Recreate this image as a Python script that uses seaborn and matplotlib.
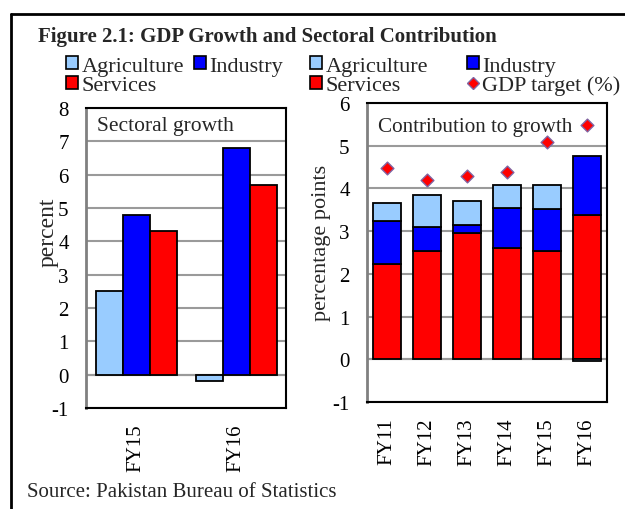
import numpy as np
import pandas as pd
import matplotlib
matplotlib.use("Agg")
import matplotlib.pyplot as plt
from matplotlib.patches import Patch
from matplotlib.lines import Line2D
import seaborn as sns

# ---------------- data ----------------
left_years = ["FY15", "FY16"]
agri_growth = [2.5, -0.2]
ind_growth = [4.8, 6.8]
serv_growth = [4.3, 5.7]

right_years = ["FY11", "FY12", "FY13", "FY14", "FY15", "FY16"]
agri_contrib = [0.42, 0.75, 0.55, 0.52, 0.56, -0.05]
ind_contrib = [0.99, 0.56, 0.20, 0.94, 0.98, 1.40]
serv_contrib = [2.24, 2.53, 2.95, 2.61, 2.53, 3.37]
gdp_target = [4.48, 4.19, 4.28, 4.38, 5.09, 5.49]

sectors = ["Agriculture", "Industry", "Services"]

# ---------------- style ----------------
sns.set_theme(style="white")
plt.rcParams["font.family"] = ["Liberation Serif", "DejaVu Serif"]
plt.rcParams["axes.unicode_minus"] = False

C_AGRI = "#99CCFF"
C_IND = "#0000FF"
C_SERV = "#FF0000"
GRID = "#9a9a9a"
EDGE_LW = 1.3
FS = 15

fig = plt.figure(figsize=(6.25, 5.10), dpi=100)
W, H = 625, 510

def ax_rect(x0, x1, y0, y1):
    return [x0 / W, 1 - y1 / H, (x1 - x0) / W, (y1 - y0) / H]

ax1 = fig.add_axes(ax_rect(86, 286, 109, 409))
ax2 = fig.add_axes(ax_rect(367, 607, 104, 403))

# ---------------- left panel ----------------
df_left = pd.DataFrame({
    "year": left_years * 3,
    "sector": [s for s in sectors for _ in left_years],
    "value": agri_growth + ind_growth + serv_growth,
})
sns.barplot(data=df_left, x="year", y="value", hue="sector",
            order=left_years, hue_order=sectors,
            palette=[C_AGRI, C_IND, C_SERV], width=0.81, saturation=1,
            edgecolor="black", linewidth=EDGE_LW, errorbar=None,
            legend=False, ax=ax1, zorder=3)
ax1.set_ylim(-1, 8)
ax1.set_yticks(range(-1, 9))
ax1.set_xlim(-0.5, len(left_years) - 0.5)
ax1.text(0.055, 0.943, "Sectoral growth", transform=ax1.transAxes,
         ha="left", va="center", fontsize=15.5)
ax1.set_ylabel("percent", fontsize=17)
ax1.yaxis.set_label_coords(-0.19, 0.59)
ax1.yaxis.label.set_verticalalignment("center")

# ---------------- right panel ----------------
serv_a = np.array(serv_contrib)
ind_a = np.array(ind_contrib)
agri_a = np.array(agri_contrib)
agri_bottom = np.where(agri_a >= 0, serv_a + ind_a, 0.0)

common = dict(width=0.69, edgecolor="black", linewidth=EDGE_LW, saturation=1,
              errorbar=None, ax=ax2, order=right_years, zorder=3)
sns.barplot(x=right_years, y=serv_contrib, color=C_SERV, **common)
sns.barplot(x=right_years, y=ind_contrib, color=C_IND, bottom=serv_a, **common)
sns.barplot(x=right_years, y=agri_contrib, color=C_AGRI, bottom=agri_bottom, **common)
sns.stripplot(x=right_years, y=gdp_target, order=right_years, jitter=False,
              marker="D", color=C_SERV, size=6.5, edgecolor="#8064A2",
              linewidth=1.0, ax=ax2, zorder=5)
ax2.set_ylim(-1, 6)
ax2.set_yticks(range(-1, 7))
ax2.set_xlim(-0.5, len(right_years) - 0.5)
ax2.text(0.046, 0.92, "Contribution to growth", transform=ax2.transAxes,
         ha="left", va="center", fontsize=15.2)
ax2.set_ylabel("percentage points", fontsize=16)
ax2.yaxis.set_label_coords(-0.19, 0.535)
ax2.yaxis.label.set_verticalalignment("center")

# ---------------- common axis styling ----------------
for ax in (ax1, ax2):
    ax.set_xlabel("")
    ax.set_axisbelow(True)
    ax.yaxis.grid(True, color=GRID, linewidth=1.5, zorder=0)
    ax.xaxis.grid(False)
    ax.axhline(0, color=GRID, linewidth=1.5, zorder=1)
    ax.tick_params(axis="y", length=0, pad=12.5, labelsize=FS, colors="black")
    ax.tick_params(axis="x", length=0, pad=11, labelsize=FS, colors="black",
                   labelrotation=90)
    for side in ("top", "right", "bottom"):
        ax.spines[side].set_visible(True)
        ax.spines[side].set_color("black")
        ax.spines[side].set_linewidth(1.5)
    ax.spines["left"].set_visible(True)
    ax.spines["left"].set_color("#808080")
    ax.spines["left"].set_linewidth(2)

# ---------------- legends ----------------
def sq(c):
    return Patch(facecolor=c, edgecolor="black", linewidth=1.2)

leg_kw = dict(frameon=False, fontsize=16, handlelength=0.55, handleheight=0.55,
              handletextpad=0.15, labelspacing=0.0, borderpad=0, borderaxespad=0,
              loc="upper left", ncol=2)
fig.legend([sq(C_AGRI), sq(C_SERV), sq(C_IND)],
           ["Agriculture", "Services", "Industry"],
           bbox_to_anchor=(66 / W, 1 - 57 / H), columnspacing=0.45, **leg_kw)
diamond = Line2D([], [], linestyle="none", marker="D", markersize=6,
                 markerfacecolor=C_SERV, markeredgecolor="#8064A2",
                 markeredgewidth=1.0)
fig.legend([sq(C_AGRI), sq(C_SERV), sq(C_IND), diamond],
           ["Agriculture", "Services", "Industry", "GDP target (%)"],
           bbox_to_anchor=(310 / W, 1 - 57 / H), columnspacing=1.75, **leg_kw)

# ---------------- titles / source / frame ----------------
fig.text(38 / W, 1 - 37 / H, "Figure 2.1: GDP Growth and Sectoral Contribution",
         fontsize=15, fontweight="bold", ha="left", va="center")
fig.text(27 / W, 1 - 493 / H, "Source: Pakistan Bureau of Statistics",
         fontsize=15, ha="left", va="center")
fig.add_artist(Line2D([11 / W, 1.0], [1 - 15 / H, 1 - 15 / H],
                      transform=fig.transFigure, color="black", linewidth=2))
fig.add_artist(Line2D([11 / W, 11 / W], [0.0, 1 - 15 / H],
                      transform=fig.transFigure, color="black", linewidth=2))

fig.savefig("out.png", dpi=100)
